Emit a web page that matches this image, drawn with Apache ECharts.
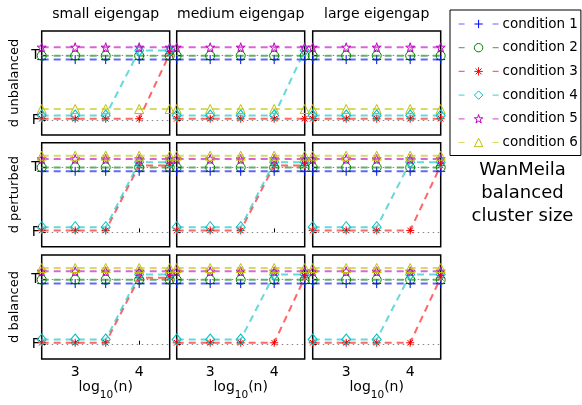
<!DOCTYPE html>
<html>
<head>
<meta charset="utf-8">
<script src="https://cdn.jsdelivr.net/npm/echarts@6/dist/echarts.min.js"></script>
<style>
  html, body { margin: 0; padding: 0; background: #fff; }
  #chart { width: 582px; height: 405px; }
</style>
</head>
<body>
<div id="chart"></div>
<script>
// x positions: log10(n) for n = 300, 1000, 3000, 10000, 30000
const xValues = [2.477, 3, 3.477, 4, 4.477]
const xTicks = [3, 4]
const yTicks = [0, 1] // F, T
const conditions = ['condition 1', 'condition 2', 'condition 3', 'condition 4', 'condition 5', 'condition 6']
const rowNames = ['d unbalanced', 'd perturbed', 'd balanced']
const colNames = ['small eigengap', 'medium eigengap', 'large eigengap']
// small vertical shift of each condition so the overlapping lines stay visible
const jitter = [-0.06, 0, 0.03, 0.08, 0.13, 0.18]

// 1 = T, 0 = F ; one row per condition
const unbalancedSmall = [
  [1, 1, 1, 1, 1], [1, 1, 1, 1, 1], [0, 0, 0, 0, 1],
  [0, 0, 0, 1, 1], [1, 1, 1, 1, 1], [0, 0, 0, 0, 0]
]
const unbalancedMedium = [
  [1, 1, 1, 1, 1], [1, 1, 1, 1, 1], [0, 0, 0, 0, 0],
  [0, 0, 0, 0, 1], [1, 1, 1, 1, 1], [0, 0, 0, 0, 0]
]
const unbalancedLarge = [
  [1, 1, 1, 1, 1], [1, 1, 1, 1, 1], [0, 0, 0, 0, 0],
  [0, 0, 0, 0, 0], [1, 1, 1, 1, 1], [0, 0, 0, 0, 0]
]
const perturbedSmall = [
  [1, 1, 1, 1, 1], [1, 1, 1, 1, 1], [0, 0, 0, 1, 1],
  [0, 0, 0, 1, 1], [1, 1, 1, 1, 1], [1, 1, 1, 1, 1]
]
const perturbedMedium = [
  [1, 1, 1, 1, 1], [1, 1, 1, 1, 1], [0, 0, 0, 1, 1],
  [0, 0, 0, 1, 1], [1, 1, 1, 1, 1], [1, 1, 1, 1, 1]
]
const perturbedLarge = [
  [1, 1, 1, 1, 1], [1, 1, 1, 1, 1], [0, 0, 0, 0, 1],
  [0, 0, 0, 1, 1], [1, 1, 1, 1, 1], [1, 1, 1, 1, 1]
]
const balancedSmall = [
  [1, 1, 1, 1, 1], [1, 1, 1, 1, 1], [0, 0, 0, 1, 1],
  [0, 0, 0, 1, 1], [1, 1, 1, 1, 1], [1, 1, 1, 1, 1]
]
const balancedMedium = [
  [1, 1, 1, 1, 1], [1, 1, 1, 1, 1], [0, 0, 0, 0, 1],
  [0, 0, 0, 1, 1], [1, 1, 1, 1, 1], [1, 1, 1, 1, 1]
]
const balancedLarge = [
  [1, 1, 1, 1, 1], [1, 1, 1, 1, 1], [0, 0, 0, 0, 1],
  [0, 0, 0, 1, 1], [1, 1, 1, 1, 1], [1, 1, 1, 1, 1]
]

const panels = [
  [unbalancedSmall, unbalancedMedium, unbalancedLarge],
  [perturbedSmall, perturbedMedium, perturbedLarge],
  [balancedSmall, balancedMedium, balancedLarge]
]

const FONT = 'DejaVu Sans'
const colors = ['#0000ff', '#008000', '#ff0000', '#00bfbf', '#bf00bf', '#bfbf00']
const symbols = [
  'path://M5 0V10M0 5H10',
  'circle',
  'path://M5 0V10M0 5H10M1.5 1.5L8.5 8.5M8.5 1.5L1.5 8.5',
  'diamond',
  'path://M50 0L61.8 36.2L100 36.2L69.1 58.8L80.9 95.1L50 72.7L19.1 95.1L30.9 58.8L0 36.2L38.2 36.2Z',
  'triangle'
]
const symbolSizes = [9, 9, 8, [9, 11], 9, 9]

const colLeft = [41.7, 176.7, 312.7]
const rowTop = [31, 142.7, 255]
const panelW = 128
const panelH = 104

const chart = echarts.init(document.getElementById('chart'))

const grids = []
const xAxes = []
const yAxes = []
const series = []

for (let r = 0; r < 3; r++) {
  for (let c = 0; c < 3; c++) {
    const idx = grids.length
    grids.push({
      left: colLeft[c], top: rowTop[r], width: panelW, height: panelH,
      show: true, borderColor: '#000', borderWidth: 1.5,
      backgroundColor: 'transparent', outerBoundsMode: 'none'
    })
    xAxes.push({
      type: 'value', gridIndex: idx, min: 2.477, max: 4.477,
      axisLine: { show: false },
      splitLine: { show: false },
      axisTick: { show: true, inside: true, length: 4, customValues: xTicks, lineStyle: { color: '#000' } },
      axisLabel: {
        show: r === 2, customValues: xTicks, margin: 6,
        color: '#000', fontFamily: FONT, fontSize: 14
      },
      name: r === 2 ? '{a|log}{b|10}{a|(n)}' : '',
      nameLocation: 'middle', nameGap: 19,
      nameTextStyle: {
        rich: {
          a: { fontFamily: FONT, fontSize: 14, color: '#000', verticalAlign: 'top', lineHeight: 14 },
          b: { fontFamily: FONT, fontSize: 10.5, color: '#000', verticalAlign: 'bottom', lineHeight: 21 }
        }
      }
    })
    yAxes.push({
      type: 'value', gridIndex: idx, min: -0.22, max: 1.38,
      axisLine: { show: false },
      splitLine: { show: false },
      axisTick: { show: true, inside: true, length: 4, customValues: yTicks, lineStyle: { color: '#000' } },
      axisLabel: {
        show: c === 0, customValues: yTicks, margin: 2,
        color: '#000', fontFamily: FONT, fontSize: 14,
        formatter: v => (v > 0.5 ? 'T' : 'F')
      }
    })
    const outcomes = panels[r][c]
    outcomes.forEach((vals, k) => {
      const s = {
        name: conditions[k],
        type: 'line',
        xAxisIndex: idx,
        yAxisIndex: idx,
        data: xValues.map((x, i) => [x, vals[i] + jitter[k]]),
        symbol: symbols[k],
        symbolSize: symbolSizes[k],
        showAllSymbol: true,
        clip: false,
        animation: false,
        z: 3 + k,
        lineStyle: { color: colors[k], width: 2, type: [7, 5], opacity: 0.6 },
        itemStyle: { color: 'none', borderColor: colors[k], borderWidth: 1 },
        emphasis: { disabled: true }
      }
      if (k === 0) {
        s.markLine = {
          silent: true, symbol: 'none', animation: false,
          label: { show: false },
          lineStyle: { color: '#888', type: [1.5, 3.5], width: 1.2 },
          data: [{ yAxis: 1 }, { yAxis: 0 }]
        }
      }
      series.push(s)
    })
  }
}

const graphics = []
colNames.forEach((t, c) => {
  graphics.push({
    type: 'text', x: colLeft[c] + panelW / 2, y: 14.5,
    style: { text: t, fontFamily: FONT, fontSize: 14, fill: '#000', textAlign: 'center', textVerticalAlign: 'middle' }
  })
})
rowNames.forEach((t, r) => {
  graphics.push({
    type: 'text', x: 15, y: rowTop[r] + panelH / 2, rotation: Math.PI / 2,
    style: { text: t, fontFamily: FONT, fontSize: 13, fill: '#000', textAlign: 'center', textVerticalAlign: 'middle' }
  })
})
graphics.push({
  type: 'text', x: 522.5, y: 193.3,
  style: {
    text: 'WanMeila\nbalanced\ncluster size', fontFamily: FONT, fontSize: 18, lineHeight: 23.3,
    fill: '#000', textAlign: 'center', textVerticalAlign: 'middle'
  }
})

chart.setOption({
  animation: false,
  backgroundColor: '#fff',
  grid: grids,
  xAxis: xAxes,
  yAxis: yAxes,
  series: series,
  graphic: graphics,
  legend: {
    data: conditions,
    orient: 'vertical',
    left: 450, top: 10,
    padding: [7, 3, 6, 8],
    itemWidth: 40, itemHeight: 10.5, itemGap: 9.7,
    borderColor: '#000', borderWidth: 1,
    lineStyle: { type: [6, 28], width: 1.2 },
    itemStyle: { borderWidth: 1 },
    textStyle: { fontFamily: FONT, fontSize: 13.5, color: '#000', padding: [0, 0, 0, -1] },
    selectedMode: false
  }
})
</script>
</body>
</html>
